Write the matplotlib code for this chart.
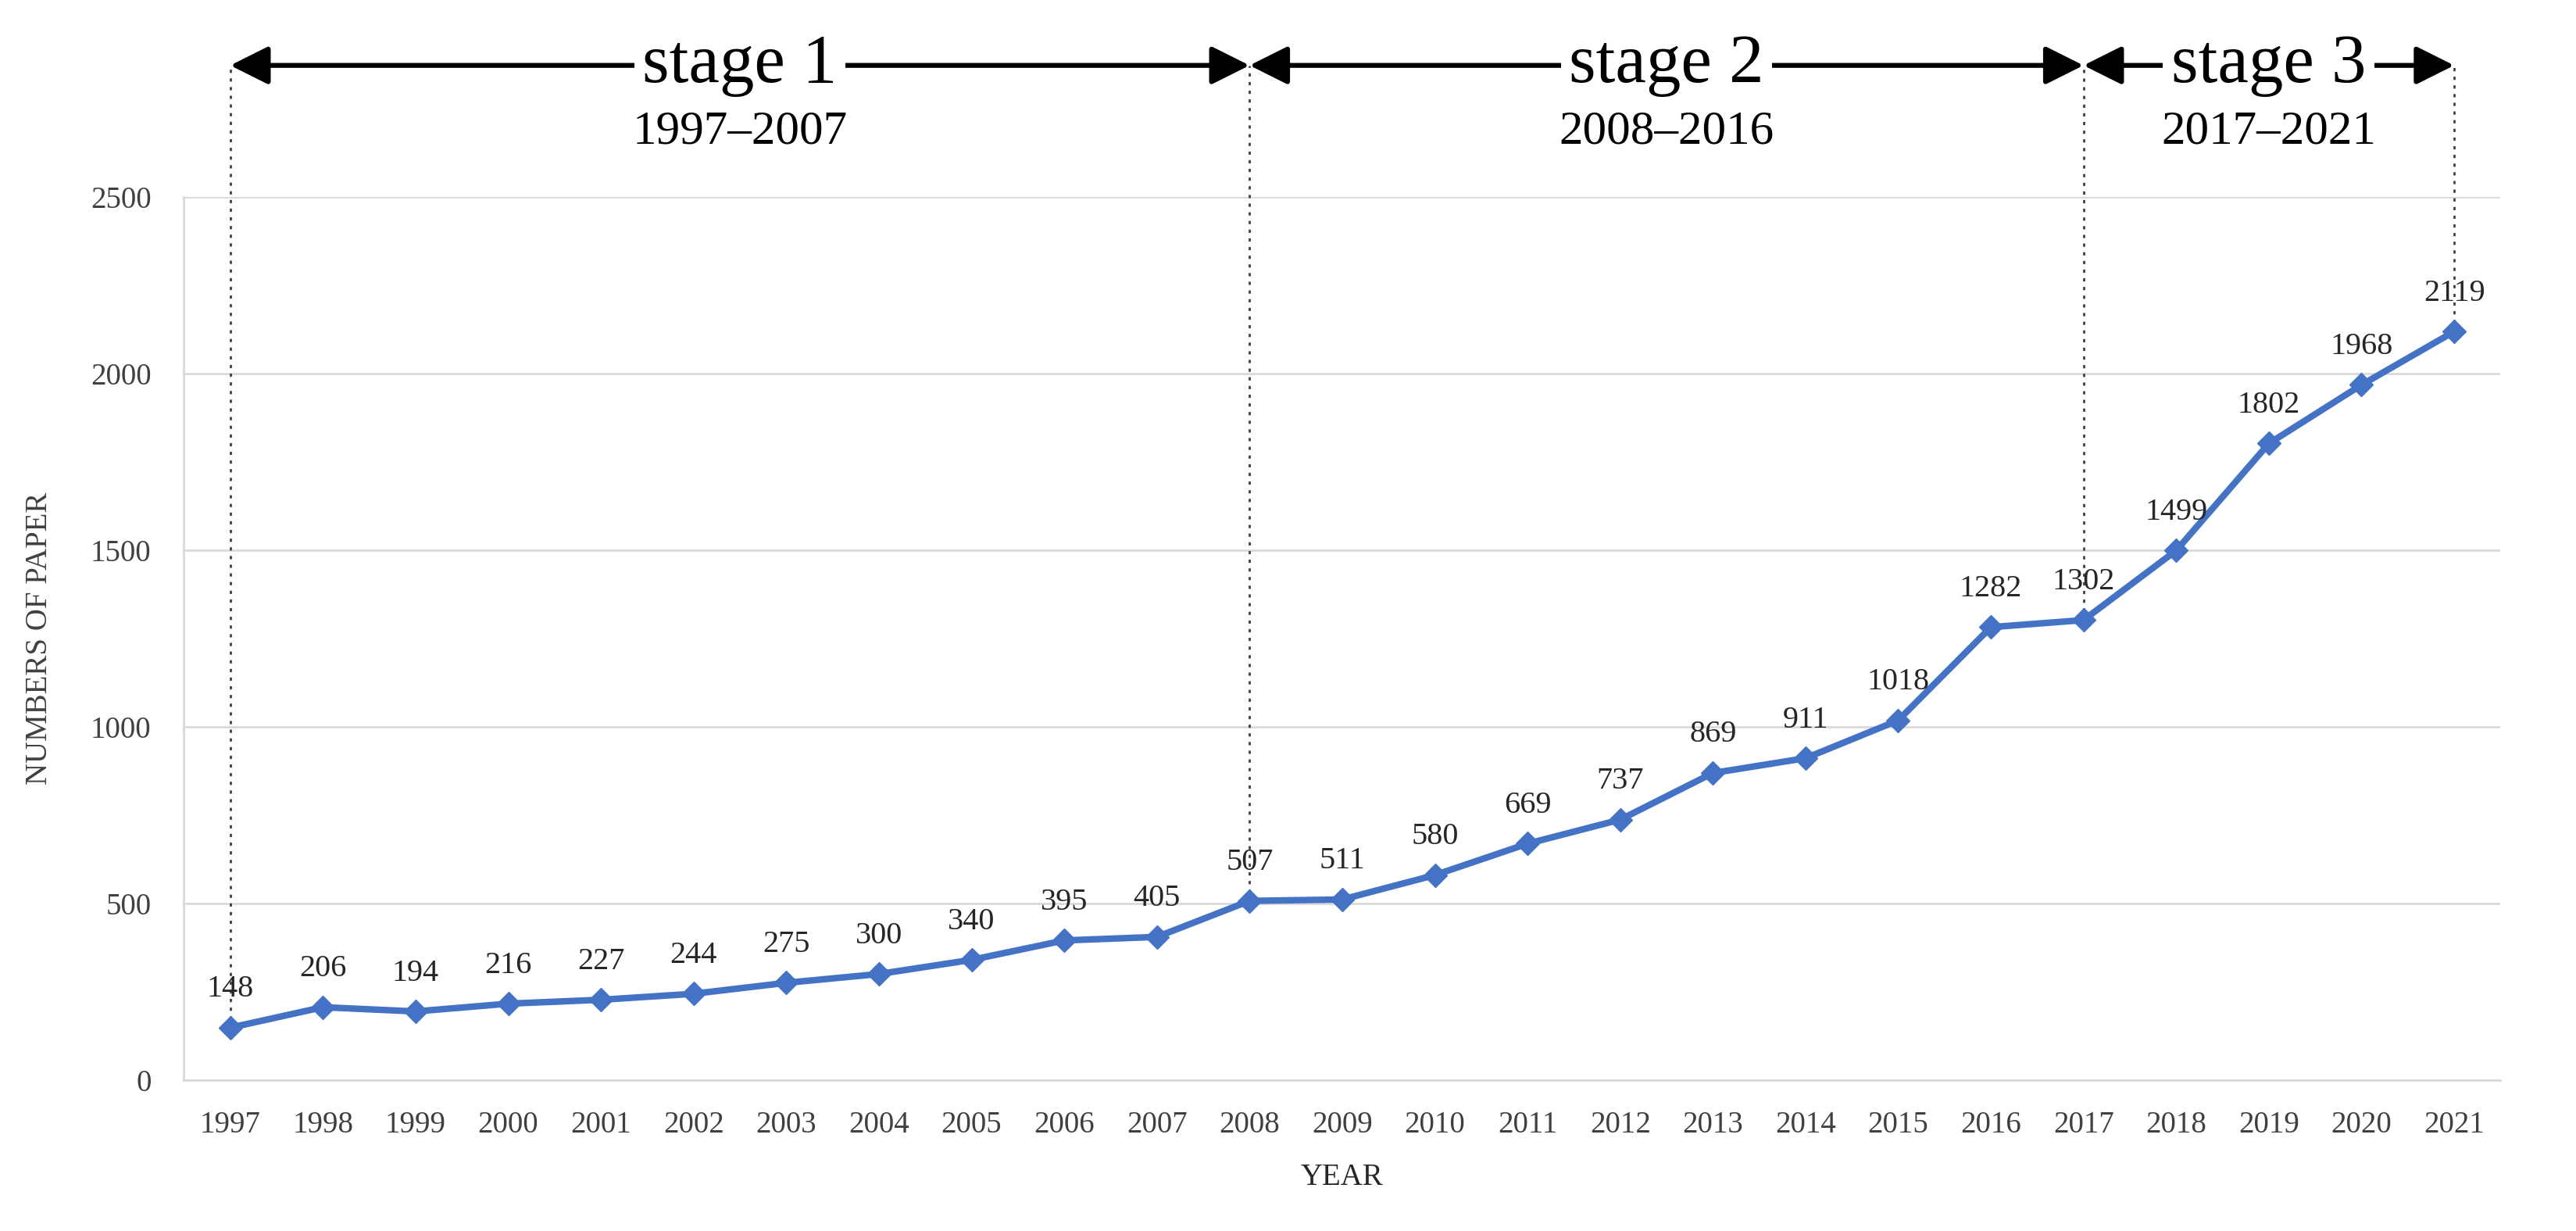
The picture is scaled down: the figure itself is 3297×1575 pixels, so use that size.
import matplotlib.pyplot as plt
import matplotlib.transforms as mtransforms

plt.rcParams['font.family'] = ['Liberation Serif', 'DejaVu Serif']

years = list(range(1997, 2022))
papers = [148, 206, 194, 216, 227, 244, 275, 300, 340, 395, 405, 507, 511,
          580, 669, 737, 869, 911, 1018, 1282, 1302, 1499, 1802, 1968, 2119]

stage_names = ["stage 1", "stage 2", "stage 3"]
stage_ranges = ["1997\u20132007", "2008\u20132016", "2017\u20132021"]
stage_bounds = [(1997, 2008), (2008, 2017), (2017, 2021)]
marker_years = [1997, 2008, 2017, 2021]

fig = plt.figure(figsize=(32.97, 15.75), dpi=100)
ax = fig.add_axes([0.0714, 0.1227, 0.8993, 0.7173])

blue = '#4472C4'
grid_c = '#D9D9D9'
tick_c = '#404040'

ax.plot(years, papers, color=blue, linewidth=6, marker='D', markersize=15,
        zorder=3)

# data labels
for x, y in zip(years, papers):
    ax.annotate(str(y), (x, y), xytext=(0, 22), textcoords='offset points',
                ha='center', va='bottom', fontsize=29, color='#262626', zorder=4)

ax.set_xlim(1996.5, 2021.5)
ax.set_ylim(0, 2500)
ax.set_xticks(years)
ax.set_xticklabels([str(y) for y in years])
ax.set_yticks(range(0, 2501, 500))
ax.tick_params(axis='both', length=0, labelsize=28, colors=tick_c)
ax.tick_params(axis='x', pad=28)
ax.tick_params(axis='y', pad=30)
ax.yaxis.grid(True, color=grid_c, linewidth=2)
ax.set_axisbelow(True)
for s in ['top', 'right']:
    ax.spines[s].set_visible(False)
for s in ['left', 'bottom']:
    ax.spines[s].set_color(grid_c)
    ax.spines[s].set_linewidth(2)

ax.set_xlabel('YEAR', fontsize=28, color='#262626', labelpad=22)
ax.set_ylabel('NUMBERS OF PAPER', fontsize=28, color='#404040', labelpad=34)

# stage arrows above the plot
arrow_y = 1.149
range_y = 1.074
trans = mtransforms.blended_transform_factory(ax.transData, ax.transAxes)
for name, rng, (x0, x1) in zip(stage_names, stage_ranges, stage_bounds):
    ax.annotate('', xy=(x1, arrow_y), xytext=(x0, arrow_y), xycoords=trans,
                textcoords=trans, annotation_clip=False,
                arrowprops=dict(arrowstyle='<|-|>', color='black', lw=4.5,
                                mutation_scale=75, shrinkA=0, shrinkB=0))
    mid = (x0 + x1) / 2
    ax.text(mid, arrow_y, name, transform=trans, ha='center', va='center',
            fontsize=64, color='black',
            bbox=dict(facecolor='white', edgecolor='none', pad=8))
    ax.text(mid, range_y, rng, transform=trans, ha='center', va='center',
            fontsize=44, color='black')

# dotted guide lines from arrows down to the points
top_val = arrow_y * 2500
for yr in marker_years:
    v = papers[years.index(yr)]
    ax.vlines(yr, v, top_val, colors='#404040', linestyles=(0, (1.5, 2.5)),
              linewidth=2, clip_on=False, zorder=2)

fig.savefig('out.png', dpi=100, facecolor='white')
